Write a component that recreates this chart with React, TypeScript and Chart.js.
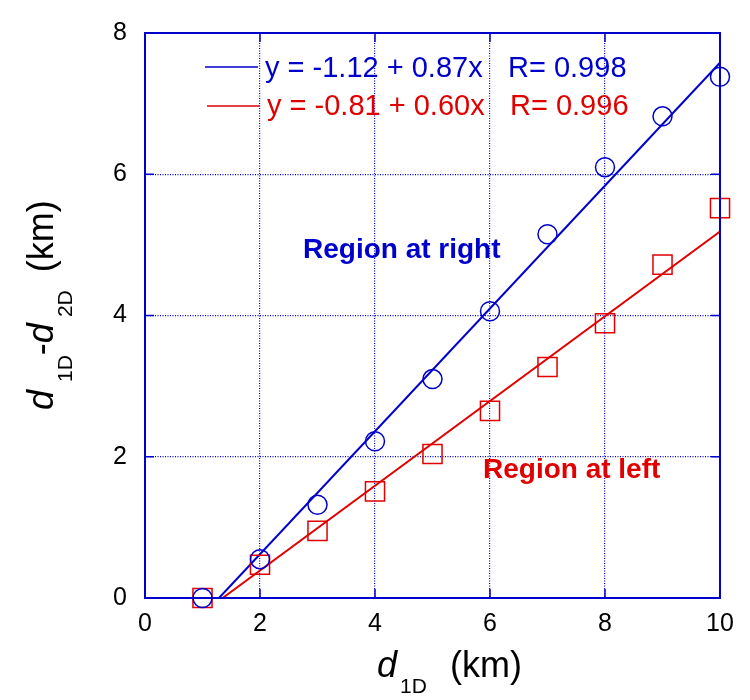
import React, { useEffect, useRef } from 'react';
import { Chart, registerables } from 'chart.js';

Chart.register(...registerables);

const xValues = [1, 2, 3, 4, 5, 6, 7, 8, 9, 10];
const rightRegion = [0, 0.55, 1.32, 2.22, 3.1, 4.06, 5.15, 6.1, 6.82, 7.38];
const leftRegion = [0, 0.47, 0.95, 1.51, 2.04, 2.65, 3.27, 3.89, 4.72, 5.52];
const fitIntercepts = [-1.12, -0.81];
const fitSlopes = [0.87, 0.6];
const fitR = [0.998, 0.996];
const seriesNames = ['Region at right', 'Region at left'];
const xTicks = [0, 2, 4, 6, 8, 10];
const yTicks = [0, 2, 4, 6, 8];

const BLUE = '#0000cc';
const RED = '#e00000';
const FONT = "'Liberation Sans', Arial, sans-serif";

function fitLine(i: number) {
  const b = fitIntercepts[i];
  const m = fitSlopes[i];
  const xMax = xTicks[xTicks.length - 1];
  return [
    { x: -b / m, y: 0 },
    { x: xMax, y: b + m * xMax },
  ];
}

function legendText(i: number) {
  const b = fitIntercepts[i];
  const m = fitSlopes[i];
  return `y = ${b.toFixed(2)} + ${m.toFixed(2)}x`;
}

const decorPlugin = {
  id: 'decor',
  afterDraw(chart: any) {
    const ctx = chart.ctx as CanvasRenderingContext2D;
    const { left, right, top, bottom } = chart.chartArea;
    const xs = chart.scales.x;
    const ys = chart.scales.y;
    ctx.save();
    // frame
    ctx.strokeStyle = BLUE;
    ctx.lineWidth = 2;
    ctx.setLineDash([]);
    ctx.strokeRect(left, top, right - left, bottom - top);
    // inner ticks
    ctx.lineWidth = 1.5;
    const tl = 9;
    ctx.beginPath();
    xTicks.forEach((v) => {
      const px = xs.getPixelForValue(v);
      ctx.moveTo(px, bottom);
      ctx.lineTo(px, bottom - tl);
      ctx.moveTo(px, top);
      ctx.lineTo(px, top + tl);
    });
    yTicks.forEach((v) => {
      const py = ys.getPixelForValue(v);
      ctx.moveTo(left, py);
      ctx.lineTo(left + tl, py);
      ctx.moveTo(right, py);
      ctx.lineTo(right - tl, py);
    });
    ctx.stroke();

    // legend
    const colors = [BLUE, RED];
    const rows = [
      { lx0: 205, lx1: 258, ly: 67, tx: 265, rx: 508, base: 77 },
      { lx0: 207, lx1: 260, ly: 106, tx: 267, rx: 510, base: 115 },
    ];
    rows.forEach((r, i) => {
      ctx.strokeStyle = colors[i];
      ctx.lineWidth = 1.5;
      ctx.beginPath();
      ctx.moveTo(r.lx0, r.ly);
      ctx.lineTo(r.lx1, r.ly);
      ctx.stroke();
      ctx.fillStyle = colors[i];
      ctx.font = `29px ${FONT}`;
      ctx.textAlign = 'left';
      ctx.textBaseline = 'alphabetic';
      ctx.fillText(legendText(i), r.tx, r.base);
      ctx.fillText(`R= ${fitR[i].toFixed(3)}`, r.rx, r.base);
    });

    // region annotations
    ctx.font = `bold 28px ${FONT}`;
    ctx.fillStyle = BLUE;
    ctx.fillText(seriesNames[0], 303, 258);
    ctx.fillStyle = RED;
    ctx.fillText(seriesNames[1], 483, 478);

    // axis titles
    ctx.fillStyle = '#000';
    const mainIt = `italic 36px ${FONT}`;
    const main = `36px ${FONT}`;
    const sub = `21px ${FONT}`;
    // x title
    let cx = 377;
    const xb = 677;
    ctx.font = mainIt;
    ctx.fillText('d', cx, xb);
    cx += ctx.measureText('d').width + 3;
    ctx.font = sub;
    ctx.fillText('1D', cx, xb + 16);
    ctx.font = main;
    ctx.fillText('(km)', 450, xb);

    // y title (rotated)
    ctx.save();
    ctx.translate(53, 410);
    ctx.rotate(-Math.PI / 2);
    let u = 0;
    ctx.font = mainIt;
    ctx.fillText('d', u, 0);
    u += ctx.measureText('d').width + 8;
    ctx.font = sub;
    ctx.fillText('1D', u, 19);
    u += ctx.measureText('1D').width;
    ctx.font = main;
    ctx.fillText('-', u, 0);
    u += ctx.measureText('-').width;
    ctx.font = mainIt;
    ctx.fillText('d', u, 0);
    u += ctx.measureText('d').width + 6;
    ctx.font = sub;
    ctx.fillText('2D', u, 19);
    u += ctx.measureText('2D').width + 18;
    ctx.font = main;
    ctx.fillText('(km)', u, 0);
    ctx.restore();

    ctx.restore();
  },
};

export default function App() {
  const ref = useRef<HTMLCanvasElement | null>(null);
  useEffect(() => {
    document.body.style.margin = '0';
    if (!ref.current) return;
    const chart = new Chart(ref.current, {
      type: 'scatter',
      data: {
        datasets: [
          {
            label: seriesNames[0],
            data: xValues.map((x, i) => ({ x, y: rightRegion[i] })),
            pointStyle: 'circle',
            pointRadius: 9.5,
            pointHoverRadius: 9.5,
            borderColor: BLUE,
            backgroundColor: 'rgba(0,0,0,0)',
            borderWidth: 1.5,
            showLine: false,
            clip: false,
          } as any,
          {
            label: seriesNames[1],
            data: xValues.map((x, i) => ({ x, y: leftRegion[i] })),
            pointStyle: 'rect',
            pointRadius: 13.5,
            pointHoverRadius: 13.5,
            borderColor: RED,
            backgroundColor: 'rgba(0,0,0,0)',
            borderWidth: 1.5,
            showLine: false,
            clip: false,
          } as any,
          {
            type: 'line',
            label: 'fit right',
            data: fitLine(0),
            borderColor: BLUE,
            borderWidth: 2,
            pointRadius: 0,
            fill: false,
          } as any,
          {
            type: 'line',
            label: 'fit left',
            data: fitLine(1),
            borderColor: RED,
            borderWidth: 2,
            pointRadius: 0,
            fill: false,
          } as any,
        ],
      },
      options: {
        animation: false,
        responsive: false,
        devicePixelRatio: 1,
        layout: { padding: { left: 0, top: 22, right: 30, bottom: 0 } },
        plugins: {
          legend: { display: false },
          tooltip: { enabled: false },
          title: { display: false },
        },
        scales: {
          x: {
            type: 'linear',
            min: 0,
            max: 10,
            afterFit: (s: any) => {
              s.height = 102;
            },
            afterBuildTicks: (s: any) => {
              s.ticks = xTicks.map((v) => ({ value: v }));
            },
            ticks: {
              color: '#000',
              font: { family: FONT, size: 25 },
              padding: 11,
              maxRotation: 0,
            },
            grid: {
              color: BLUE,
              lineWidth: 1.2,
              drawTicks: false,
            },
            border: { display: false, dash: [1, 1.5] },
          },
          y: {
            type: 'linear',
            min: 0,
            max: 8,
            afterFit: (s: any) => {
              s.width = 145;
            },
            afterBuildTicks: (s: any) => {
              s.ticks = yTicks.map((v) => ({ value: v }));
            },
            ticks: {
              color: '#000',
              font: { family: FONT, size: 25 },
              padding: 18,
            },
            grid: {
              color: BLUE,
              lineWidth: 1.2,
              drawTicks: false,
            },
            border: { display: false, dash: [1, 1.5] },
          },
        },
      },
      plugins: [decorPlugin],
    });
    return () => chart.destroy();
  }, []);
  return (
    <div style={{ width: 750, height: 700 }}>
      <canvas ref={ref} width={750} height={700} />
    </div>
  );
}
